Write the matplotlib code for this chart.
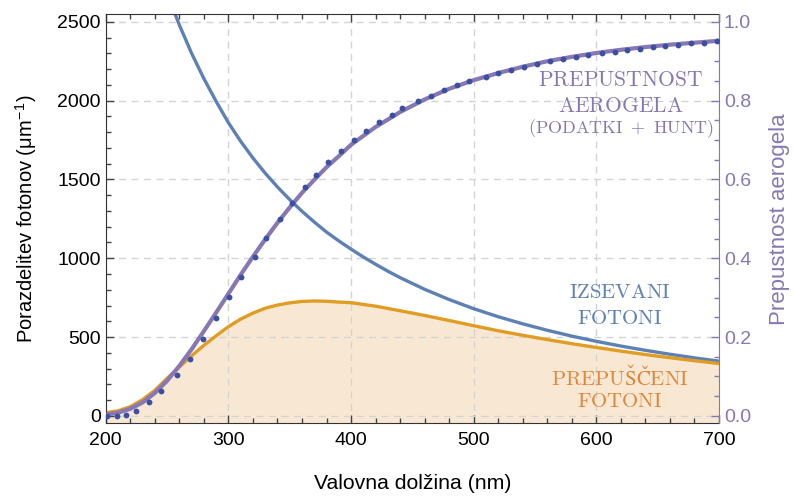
import matplotlib.pyplot as plt
from matplotlib.ticker import MultipleLocator

plt.rcParams['font.family'] = ['Liberation Sans', 'DejaVu Sans']
plt.rcParams['mathtext.fontset'] = 'cm'

# emitted photon spectrum (left axis, per um)
wl_emit = [250, 260, 270, 280, 290, 300, 310, 320, 330, 340, 350, 360, 370, 380, 390, 400,
           410, 420, 430, 440, 460, 480, 500, 520, 540, 560, 580, 600, 620, 640, 660, 680, 700]
emitted = [2680, 2480, 2300, 2140, 1995, 1860, 1742, 1636, 1540, 1452, 1372, 1298, 1230, 1166,
           1110, 1058, 1008, 962, 918, 877, 803, 738, 680, 629, 584, 543, 506, 473, 443, 416,
           391, 368, 347]

# transmitted photons (left axis)
wl_trans = [200, 210, 220, 230, 240, 250, 260, 270, 280, 290, 300, 310, 320, 330, 340, 350,
            360, 370, 380, 390, 400, 420, 440, 460, 480, 500, 520, 540, 560, 580, 600,
            620, 640, 660, 680, 700]
transmitted = [20, 32, 58, 103, 162, 238, 310, 381, 448, 508, 566, 614, 652, 683, 703, 717,
               726, 729, 727, 722, 718, 696, 667, 637, 605, 572, 540, 511, 484, 458, 434,
               411, 389, 369, 350, 332]

# aerogel transmittance fit (right axis)
fit_T = [0.003, 0.008, 0.018, 0.034, 0.058, 0.089, 0.127, 0.169, 0.215, 0.262, 0.310, 0.358,
         0.404, 0.448, 0.490, 0.529, 0.566, 0.599, 0.631, 0.659, 0.688, 0.733, 0.771, 0.803,
         0.830, 0.852, 0.870, 0.886, 0.900, 0.911, 0.921, 0.929, 0.936, 0.942, 0.947, 0.952]

# measured transmittance points
wl_meas = [200.9, 209.0, 216.7, 224.8, 235.1, 245.4, 258.4, 268.8, 279.6, 290.0, 300.2, 310.6,
           321.4, 330.7, 342.3, 352.1, 362.1, 371.1, 381.4, 392.0, 402.6, 412.5, 422.7, 433.0,
           441.4, 454.7, 465.0, 476.1, 486.2, 496.5, 509.8, 520.1, 530.7, 541.1, 551.7, 562.2,
           572.6, 583.2, 593.6, 604.3, 614.9, 625.1, 635.5, 646.1, 656.4, 666.7, 677.3, 687.9, 698.5]
meas_T = [0.000, 0.000, 0.001, 0.013, 0.035, 0.064, 0.103, 0.145, 0.194, 0.248, 0.301, 0.352,
          0.403, 0.451, 0.500, 0.540, 0.580, 0.612, 0.644, 0.673, 0.699, 0.722, 0.745, 0.764,
          0.781, 0.800, 0.813, 0.827, 0.840, 0.850, 0.861, 0.870, 0.878, 0.885, 0.893, 0.900,
          0.906, 0.911, 0.917, 0.921, 0.924, 0.929, 0.932, 0.936, 0.939, 0.942, 0.945, 0.947, 0.951]

c_blue = '#5E81B5'
c_orange = '#E19C24'
c_purple = '#8778B3'
c_fill = '#F8E8D3'
c_dots = '#3B4FA3'
c_text_orange = '#E0883A'

y_lo, y_hi = -48, 2547
scale = 2500.0

fig = plt.figure(figsize=(7.94, 4.97), dpi=100)
ax = fig.add_axes([0.1332, 0.148, 0.7723, 0.823])

ax.fill_between(wl_trans, transmitted, y_lo, color=c_fill, lw=0, zorder=1)
ax.plot(wl_emit, emitted, color=c_blue, lw=2.4, zorder=2)
ax.plot(wl_trans, transmitted, color=c_orange, lw=2.4, zorder=2.1)

ax.set_xlim(200, 700)
ax.set_ylim(y_lo, y_hi)
ax.xaxis.set_major_locator(MultipleLocator(100))
ax.xaxis.set_minor_locator(MultipleLocator(20))
ax.yaxis.set_major_locator(MultipleLocator(500))
ax.yaxis.set_minor_locator(MultipleLocator(100))
ax.set_axisbelow('line')
ax.grid(True, which='major', color='#d4d4d4', ls=(0, (5, 4)), lw=1.0)
ax.tick_params(which='both', direction='in', top=True, right=False, labelsize=14,
               color='#444444', width=1.0)
ax.tick_params(axis='x', which='major', pad=6)
ax.tick_params(which='major', length=6)
ax.tick_params(which='minor', length=3.5)
for s in ['left', 'bottom', 'top']:
    ax.spines[s].set_color('#333333')
ax.spines['right'].set_visible(False)
ax.set_xlabel('Valovna dolžina (nm)', fontsize=15.3, labelpad=18)
ax.set_ylabel(r'Porazdelitev fotonov (μm$^{\mathregular{-1}}$)', fontsize=14.5, labelpad=13)

ax2 = ax.twinx()
ax2.plot(wl_trans, fit_T, color=c_purple, lw=3.0, zorder=2)
ax2.plot(wl_meas, meas_T, 'o', color=c_dots, ms=4.2, mew=0, zorder=3)
ax2.set_ylim(y_lo / scale, y_hi / scale)
ax2.yaxis.set_major_locator(MultipleLocator(0.2))
ax2.yaxis.set_minor_locator(MultipleLocator(0.05))
ax2.yaxis.set_major_formatter(lambda v, p: f'{v:.1f}')
ax2.tick_params(which='both', direction='in', colors=c_purple, labelsize=14, width=1.0)
ax2.tick_params(which='major', length=6)
ax2.tick_params(which='minor', length=3.5)
ax2.spines['right'].set_color(c_purple)
for s in ['left', 'bottom', 'top']:
    ax2.spines[s].set_visible(False)
ax2.set_ylabel('Prepustnost aerogela', color=c_purple, fontsize=16, labelpad=13)

# curve annotations
ax.text(620, 2126, r'$\mathrm{PREPUSTNOST}$', color=c_purple, fontsize=15.5, ha='center', va='center')
ax.text(620, 1961, r'$\mathrm{AEROGELA}$', color=c_purple, fontsize=15.5, ha='center', va='center')
ax.text(620, 1821, r'$(\mathrm{PODATKI}\ +\ \mathrm{HUNT})$', color=c_purple, fontsize=13,
        ha='center', va='center')
ax.text(619, 780, r'$\mathrm{IZSEVANI}$', color=c_blue, fontsize=15, ha='center', va='center')
ax.text(619, 620, r'$\mathrm{FOTONI}$', color=c_blue, fontsize=15, ha='center', va='center')
ax.text(619, 252, r'$\mathrm{PREPUŠČENI}$', color=c_text_orange, fontsize=15,
        ha='center', va='center')
ax.text(619, 89, r'$\mathrm{FOTONI}$', color=c_text_orange, fontsize=15, ha='center', va='center')

fig.savefig('out.png', dpi=100)
